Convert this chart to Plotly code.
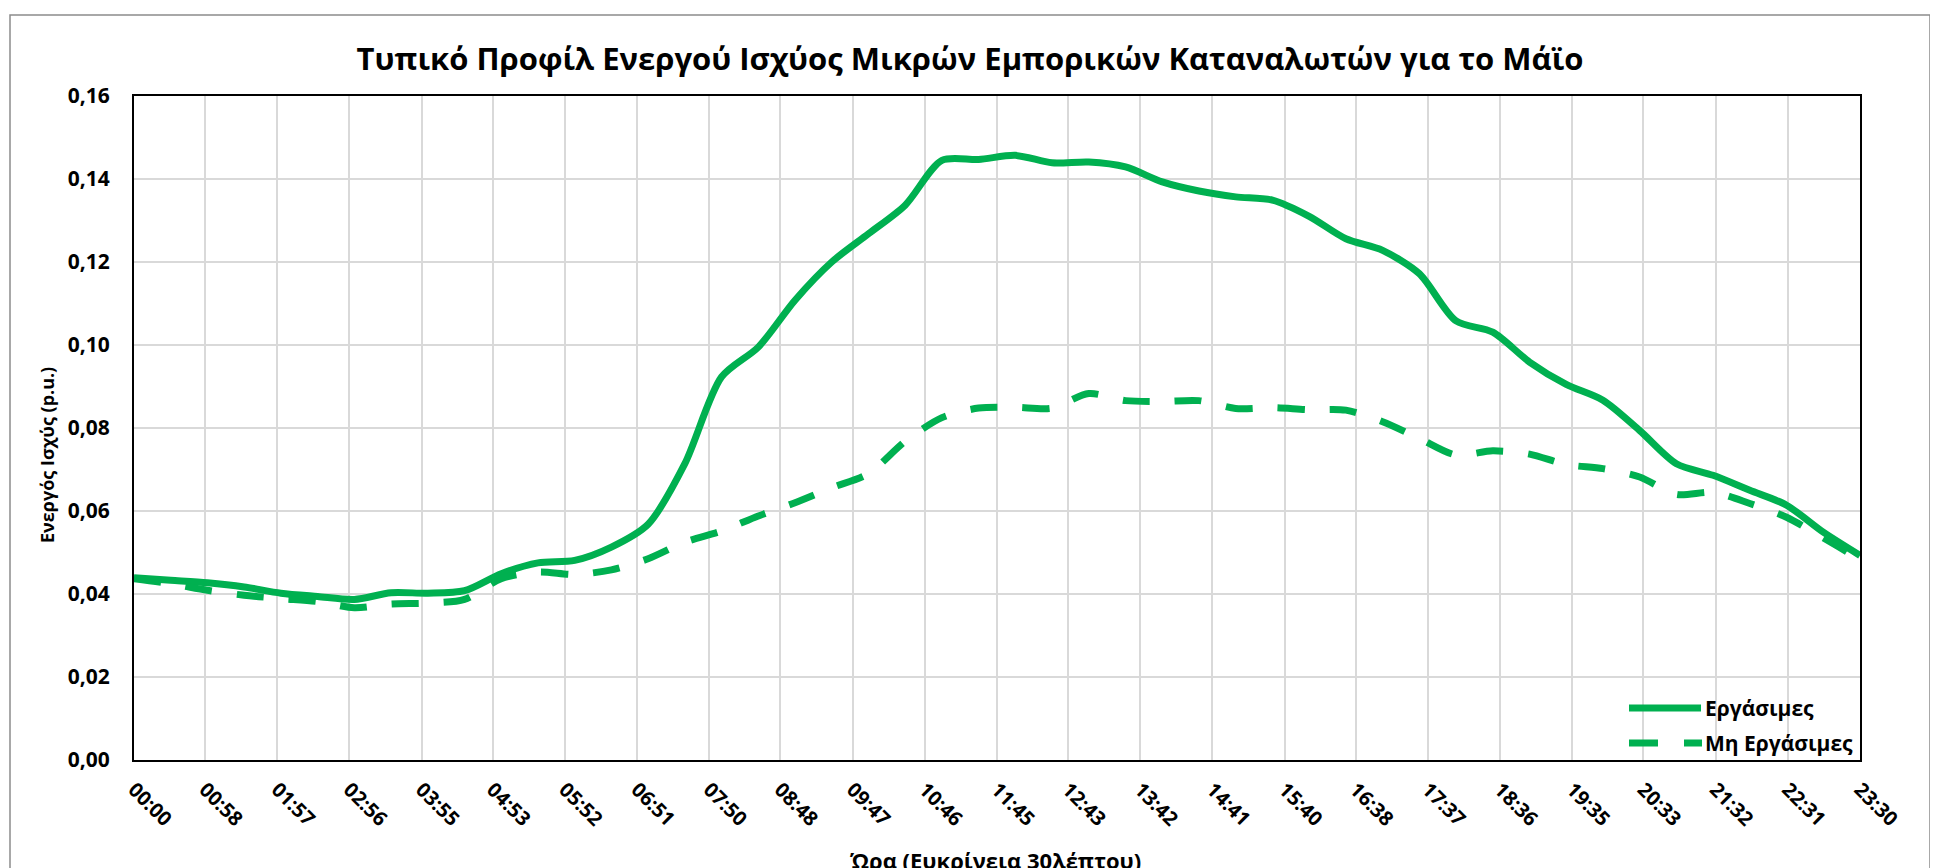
import plotly.graph_objects as go

# ---------------- data ----------------
times = ["00:00", "00:30", "01:00", "01:30", "02:00", "02:30", "03:00", "03:30",
         "04:00", "04:30", "05:00", "05:30", "06:00", "06:30", "07:00", "07:30",
         "08:00", "08:30", "09:00", "09:30", "10:00", "10:30", "11:00", "11:30",
         "12:00", "12:30", "13:00", "13:30", "14:00", "14:30", "15:00", "15:30",
         "16:00", "16:30", "17:00", "17:30", "18:00", "18:30", "19:00", "19:30",
         "20:00", "20:30", "21:00", "21:30", "22:00", "22:30", "23:00", "23:30"]

workdays = [0.0439, 0.0433, 0.0427, 0.0417, 0.0402, 0.0394, 0.0387, 0.0403,
            0.0402, 0.0408, 0.0449, 0.0475, 0.0481, 0.0513, 0.0568, 0.0714,
            0.0923, 0.0995, 0.1108, 0.1200, 0.1268, 0.1337, 0.1445, 0.1447,
            0.1457, 0.1439, 0.1441, 0.1429, 0.1393, 0.1371, 0.1357, 0.1349,
            0.1310, 0.1256, 0.1228, 0.1172, 0.1058, 0.1031, 0.0959, 0.0905,
            0.0867, 0.0794, 0.0714, 0.0686, 0.0650, 0.0614, 0.0549, 0.0493]

non_workdays = [0.0437, 0.0425, 0.0409, 0.0397, 0.0389, 0.0382, 0.0367, 0.0376,
                0.0378, 0.0387, 0.0437, 0.0453, 0.0447, 0.0458, 0.0485, 0.0525,
                0.0552, 0.0588, 0.0620, 0.0656, 0.0690, 0.0768, 0.0825, 0.0848,
                0.0850, 0.0848, 0.0883, 0.0866, 0.0864, 0.0866, 0.0847, 0.0849,
                0.0844, 0.0843, 0.0815, 0.0775, 0.0735, 0.0745, 0.0737, 0.0712,
                0.0702, 0.0682, 0.0640, 0.0645, 0.0618, 0.0585, 0.0535, 0.0483]

tick_labels = ["00:00", "00:58", "01:57", "02:56", "03:55", "04:53", "05:52",
               "06:51", "07:50", "08:48", "09:47", "10:46", "11:45", "12:43",
               "13:42", "14:41", "15:40", "16:38", "17:37", "18:36", "19:35",
               "20:33", "21:32", "22:31", "23:30"]

y_ticks = [0.00, 0.02, 0.04, 0.06, 0.08, 0.10, 0.12, 0.14, 0.16]

series_names = ["Εργάσιμες", "Μη Εργάσιμες"]
title_text = "Τυπικό Προφίλ Ενεργού Ισχύος Μικρών Εμπορικών Καταναλωτών για το Μάϊο"
x_title = "Ώρα (Ευκρίνεια 30λέπτου)"
y_title = "Ενεργός Ισχύς (p.u.)"


def to_hours(s):
    h, m = s.split(":")
    return int(h) + int(m) / 60.0


x_hours = [to_hours(t) for t in times]
tick_vals = [to_hours(t) for t in tick_labels]

# ---------------- layout geometry ----------------
# page coordinates (the html body has an 8px margin, so figure = page - 8)
OFF = 8
W, H = 1930, 860
L, R, T, B = 134 - OFF, 1860 - OFF, 96 - OFF, 760 - OFF
PW, PH = R - L, B - T


def px(page_x):
    return (page_x - OFF - L) / PW


def py(page_y):
    return (B - (page_y - OFF)) / PH


GREEN = "#00B050"
FONT = "Open Sans"

fig = go.Figure()
fig.add_trace(go.Scatter(
    x=x_hours, y=workdays, name=series_names[0], mode="lines",
    line=dict(color=GREEN, width=7, shape="spline", smoothing=0.8),
    showlegend=False))
fig.add_trace(go.Scatter(
    x=x_hours, y=non_workdays, name=series_names[1], mode="lines",
    line=dict(color=GREEN, width=7, shape="spline", smoothing=0.8,
              dash="27px,25px"),
    showlegend=False))

fig.update_layout(
    width=W, height=H,
    margin=dict(l=L, r=W - R, t=T, b=H - B, autoexpand=False),
    paper_bgcolor="white", plot_bgcolor="white",
    separators=",.",
    font=dict(family=FONT, color="black"),
    title=dict(text="<b>" + title_text + "</b>", x=(970 - OFF) / W, xanchor="center",
               xref="container", yref="container", y=1 - (59 - OFF) / H,
               yanchor="middle", font=dict(size=31, family=FONT, color="black")),
)

fig.update_xaxes(
    range=[0, 23.5], tickvals=tick_vals, ticktext=["<b>%s</b>" % t for t in tick_labels],
    tickangle=45, tickfont=dict(size=20, family=FONT, color="black"),
    showgrid=True, gridcolor="#D9D9D9", gridwidth=1.5,
    showline=True, linecolor="black", linewidth=2, mirror=True,
    ticks="", zeroline=False, ticklabelstandoff=8,
)
fig.update_yaxes(
    range=[0, 0.16], tickvals=y_ticks, tickformat=".2f",
    tickfont=dict(size=21, family=FONT, color="black", weight="bold"),
    showgrid=True, gridcolor="#D9D9D9", gridwidth=1.5,
    showline=True, linecolor="black", linewidth=2, mirror=True,
    ticks="", zeroline=False, ticklabelstandoff=18,
)

shapes = []
# outer chart border
shapes.append(dict(type="rect", xref="paper", yref="paper",
                   x0=px(10), x1=px(1930), y0=py(930), y1=py(15),
                   line=dict(color="#8C8C8C", width=1.5), layer="below"))
# legend background
shapes.append(dict(type="rect", xref="paper", yref="paper",
                   x0=px(1619), x1=px(1859), y0=py(759), y1=py(688),
                   fillcolor="white", line=dict(width=0), layer="between"))
# legend samples
shapes.append(dict(type="line", xref="paper", yref="paper",
                   x0=px(1629), x1=px(1701), y0=py(708), y1=py(708),
                   line=dict(color=GREEN, width=7), layer="above"))
shapes.append(dict(type="line", xref="paper", yref="paper",
                   x0=px(1629), x1=px(1702), y0=py(743), y1=py(743),
                   line=dict(color=GREEN, width=7, dash="29px,26px"), layer="above"))
fig.update_layout(shapes=shapes)

annotations = [
    dict(text="<b>" + series_names[0] + "</b>", x=px(1703), y=py(708), xref="paper", yref="paper",
         xanchor="left", yanchor="middle", showarrow=False,
         font=dict(size=21, family=FONT, color="black")),
    dict(text="<b>" + series_names[1] + "</b>", x=px(1703), y=py(743), xref="paper", yref="paper",
         xanchor="left", yanchor="middle", showarrow=False,
         font=dict(size=21, family=FONT, color="black")),
    dict(text="<b>" + y_title + "</b>", x=px(47), y=py(455), xref="paper", yref="paper",
         xanchor="center", yanchor="middle", textangle=-90, showarrow=False,
         font=dict(size=18, family=FONT, color="black")),
    dict(text="<b>" + x_title + "</b>", x=px(995), y=py(843), xref="paper", yref="paper",
         xanchor="center", yanchor="top", showarrow=False,
         font=dict(size=22, family=FONT, color="black")),
]
fig.update_layout(annotations=annotations)

fig.write_html("out.html")
